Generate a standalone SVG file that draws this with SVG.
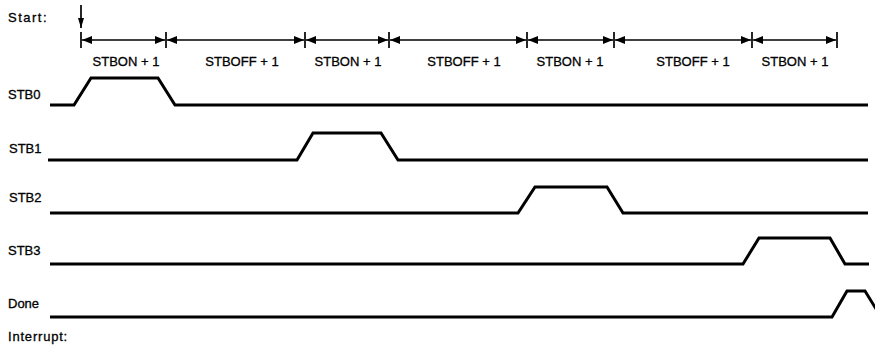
<svg xmlns="http://www.w3.org/2000/svg" width="875" height="348" viewBox="0 0 875 348">
<style>
text{font-family:"Liberation Sans",Arial,sans-serif;font-size:13px;fill:#000;stroke:#000;stroke-width:0.3}
.lbl{text-anchor:middle}
.sig{fill:none;stroke:#000;stroke-width:3;stroke-linejoin:miter}
.dim{stroke:#000;stroke-width:1.7;fill:none}
.tick{stroke:#000;stroke-width:1.7}
</style>
<defs>
<marker id="ah" viewBox="0 0 10 8" refX="10" refY="4" markerWidth="10" markerHeight="8" markerUnits="userSpaceOnUse" orient="auto-start-reverse">
<path d="M0,0 L10,4 L0,8 Z" fill="#000"/>
</marker>
<marker id="ahs" viewBox="0 0 6 10" refX="3" refY="10" markerWidth="6" markerHeight="10" markerUnits="userSpaceOnUse">
<path d="M0,0 L3,10 L6,0 Z" fill="#000"/>
</marker>
</defs>
<g id="labels">
<text x="8" y="22" letter-spacing="1.5">Start:</text>
<text x="8" y="99">STB0</text>
<text x="9" y="153">STB1</text>
<text x="9" y="202">STB2</text>
<text x="8" y="255">STB3</text>
<text x="8" y="308">Done</text>
<text x="8" y="341" letter-spacing="0.8">Interrupt:</text>
</g>
<g id="start-arrow">
<line x1="81" y1="5" x2="81" y2="28" class="dim" marker-end="url(#ahs)"/>
</g>
<g id="ticks">
<line x1="81" y1="32" x2="81" y2="48" class="tick"/>
<line x1="166" y1="32" x2="166" y2="48" class="tick"/>
<line x1="305" y1="32" x2="305" y2="48" class="tick"/>
<line x1="389" y1="32" x2="389" y2="48" class="tick"/>
<line x1="527" y1="32" x2="527" y2="48" class="tick"/>
<line x1="614" y1="32" x2="614" y2="48" class="tick"/>
<line x1="752" y1="32" x2="752" y2="48" class="tick"/>
<line x1="837" y1="32" x2="837" y2="48" class="tick"/>
</g>
<g id="connectors">
<line x1="82" y1="40" x2="165" y2="40" class="dim" marker-start="url(#ah)" marker-end="url(#ah)"/>
<line x1="167" y1="40" x2="304" y2="40" class="dim" marker-start="url(#ah)" marker-end="url(#ah)"/>
<line x1="306" y1="40" x2="388" y2="40" class="dim" marker-start="url(#ah)" marker-end="url(#ah)"/>
<line x1="390" y1="40" x2="526" y2="40" class="dim" marker-start="url(#ah)" marker-end="url(#ah)"/>
<line x1="528" y1="40" x2="613" y2="40" class="dim" marker-start="url(#ah)" marker-end="url(#ah)"/>
<line x1="615" y1="40" x2="751" y2="40" class="dim" marker-start="url(#ah)" marker-end="url(#ah)"/>
<line x1="753" y1="40" x2="836" y2="40" class="dim" marker-start="url(#ah)" marker-end="url(#ah)"/>
</g>
<g id="interval-labels">
<text class="lbl" x="126" y="66">STBON + 1</text>
<text class="lbl" x="242" y="66">STBOFF + 1</text>
<text class="lbl" x="348" y="66">STBON + 1</text>
<text class="lbl" x="464" y="66">STBOFF + 1</text>
<text class="lbl" x="570" y="66">STBON + 1</text>
<text class="lbl" x="693" y="66">STBOFF + 1</text>
<text class="lbl" x="795" y="66">STBON + 1</text>
</g>
<g id="STB0"><polyline class="sig" points="50,105 74,105 91,78 158,78 175,105 868,105"/></g>
<g id="STB1"><polyline class="sig" points="48,160 297,160 313,133 381,133 398,160 868,160"/></g>
<g id="STB2"><polyline class="sig" points="50,213 518,213 535,187 607,187 623,213 868,213"/></g>
<g id="STB3"><polyline class="sig" points="50,264 743,264 759,238 830,238 845,264 869,264"/></g>
<g id="Done"><polyline class="sig" points="50,317 832,317 847,291 865,291 881,317"/></g>
</svg>
